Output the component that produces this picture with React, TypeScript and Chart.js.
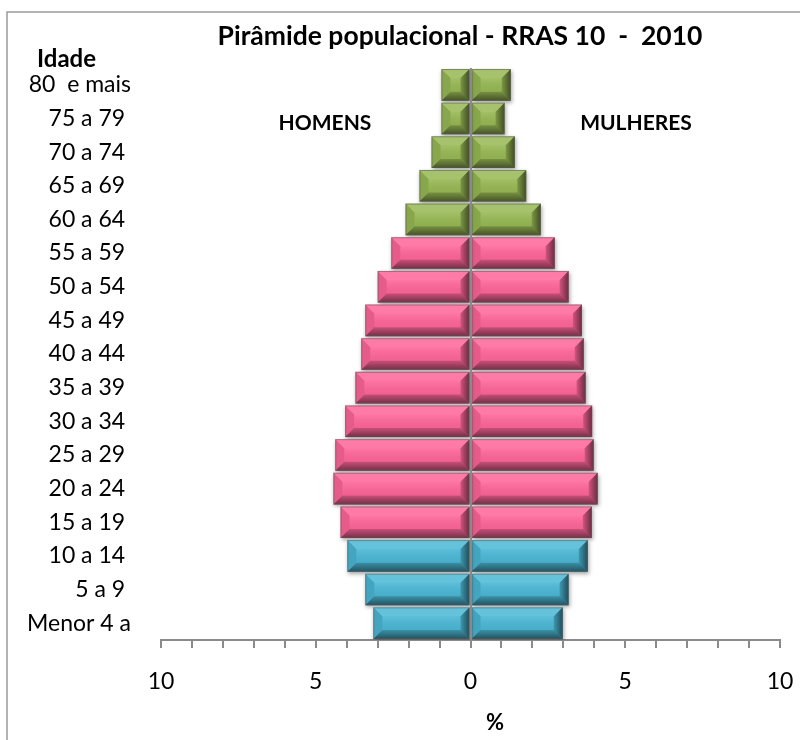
import React, { useEffect, useRef } from 'react';
import { Chart, registerables } from 'chart.js';

Chart.register(...registerables);

// Age groups, top to bottom
const ageLabels = [
  '80  e mais',
  '75 a 79 ',
  '70 a 74 ',
  '65 a 69 ',
  '60 a 64 ',
  '55 a 59 ',
  '50 a 54 ',
  '45 a 49 ',
  '40 a 44 ',
  '35 a 39 ',
  '30 a 34 ',
  '25 a 29 ',
  '20 a 24 ',
  '15 a 19 ',
  '10 a 14 ',
  '5 a 9 ',
  'Menor 4 a',
];

// Percent of population
const menPercent = [0.94, 0.94, 1.26, 1.65, 2.1, 2.56, 3.0, 3.4, 3.53, 3.72, 4.05, 4.37, 4.43, 4.2, 3.98, 3.4, 3.14];
const womenPercent = [1.3, 1.1, 1.43, 1.8, 2.27, 2.72, 3.17, 3.6, 3.66, 3.72, 3.93, 3.98, 4.11, 3.92, 3.79, 3.17, 2.98];

// Broad age group of each row
const ageGroups = [
  'idosos', 'idosos', 'idosos', 'idosos', 'idosos',
  'adultos', 'adultos', 'adultos', 'adultos', 'adultos', 'adultos', 'adultos', 'adultos', 'adultos',
  'jovens', 'jovens', 'jovens',
];

const groupColors: Record<string, string> = {
  idosos: '#98B954',
  adultos: '#FF6699',
  jovens: '#4BB8D6',
};

const xTickStep = 5;
const titleText = 'Pirâmide populacional - RRAS 10  -  2010';
const yAxisTitle = 'Idade';
const menLabel = 'HOMENS';
const womenLabel = 'MULHERES';
const xAxisTitle = '%';

const FONT = 'Lato, "Open Sans", sans-serif';

function poly(ctx: CanvasRenderingContext2D, pts: number[][], fill: string | CanvasGradient) {
  ctx.beginPath();
  ctx.moveTo(pts[0][0], pts[0][1]);
  for (let i = 1; i < pts.length; i++) ctx.lineTo(pts[i][0], pts[i][1]);
  ctx.closePath();
  ctx.fillStyle = fill;
  ctx.fill();
}

const framePlugin = {
  id: 'frame',
  beforeDraw(chart: any) {
    const ctx = chart.ctx as CanvasRenderingContext2D;
    ctx.save();
    ctx.fillStyle = '#ffffff';
    ctx.fillRect(0, 0, chart.width, chart.height);
    ctx.strokeStyle = '#9a9a9a';
    ctx.lineWidth = 1.5;
    ctx.beginPath();
    ctx.moveTo(7, chart.height);
    ctx.lineTo(7, 12);
    ctx.lineTo(chart.width, 12);
    ctx.stroke();
    ctx.restore();
  },
};

const shadowPlugin = {
  id: 'barShadow',
  beforeDatasetsDraw(chart: any) {
    const ctx = chart.ctx as CanvasRenderingContext2D;
    ctx.save();
    ctx.shadowColor = 'rgba(0,0,0,0.35)';
    ctx.shadowBlur = 4;
    ctx.shadowOffsetX = 1;
    ctx.shadowOffsetY = 2;
  },
  afterDatasetsDraw(chart: any) {
    chart.ctx.restore();
  },
};

const bevelPlugin = {
  id: 'bevel',
  afterDatasetsDraw(chart: any) {
    const ctx = chart.ctx as CanvasRenderingContext2D;
    ctx.save();
    chart.data.datasets.forEach((_ds: any, di: number) => {
      const meta = chart.getDatasetMeta(di);
      meta.data.forEach((el: any) => {
        const p = el.getProps(['x', 'y', 'base', 'height'], true);
        const L = Math.min(p.x, p.base);
        const R = Math.max(p.x, p.base);
        const T = p.y - p.height / 2;
        const B = p.y + p.height / 2;
        const b = Math.min(9, (R - L) / 2, p.height / 2);
        const fg = ctx.createLinearGradient(0, T + b, 0, B - b);
        fg.addColorStop(0, 'rgba(255,255,255,0.10)');
        fg.addColorStop(1, 'rgba(0,0,0,0.05)');
        ctx.fillStyle = fg;
        ctx.fillRect(L + b, T + b, R - L - 2 * b, p.height - 2 * b);
        poly(ctx, [[L, T], [R, T], [R - b, T + b], [L + b, T + b]], 'rgba(255,255,255,0.14)');
        const bg = ctx.createLinearGradient(0, B - b, 0, B);
        bg.addColorStop(0, 'rgba(0,0,0,0.22)');
        bg.addColorStop(1, 'rgba(0,0,0,0.55)');
        poly(ctx, [[L, B], [R, B], [R - b, B - b], [L + b, B - b]], bg);
        const rg = ctx.createLinearGradient(R - b, 0, R, 0);
        rg.addColorStop(0, 'rgba(0,0,0,0.18)');
        rg.addColorStop(1, 'rgba(0,0,0,0.58)');
        poly(ctx, [[R, T], [R, B], [R - b, B - b], [R - b, T + b]], rg);
        poly(ctx, [[L, T], [L, B], [L + b, B - b], [L + b, T + b]], 'rgba(0,0,0,0.1)');
        ctx.strokeStyle = 'rgba(90,90,90,0.55)';
        ctx.lineWidth = 1;
        ctx.strokeRect(L + 0.5, T + 0.5, R - L - 1, p.height - 1);
      });
    });
    const xs = chart.scales.x;
    const x0 = Math.round(xs.getPixelForValue(0));
    ctx.strokeStyle = '#8a8a8a';
    ctx.lineWidth = 2;
    ctx.beginPath();
    ctx.moveTo(x0, chart.chartArea.top);
    ctx.lineTo(x0, chart.chartArea.bottom);
    ctx.stroke();
    ctx.restore();
  },
};

const textPlugin = {
  id: 'texts',
  afterDraw(chart: any) {
    const ctx = chart.ctx as CanvasRenderingContext2D;
    ctx.save();
    ctx.fillStyle = '#000';
    ctx.textBaseline = 'alphabetic';
    ctx.textAlign = 'center';
    ctx.font = `bold 26.5px ${FONT}`;
    ctx.fillText(titleText, 460, 45);
    ctx.textAlign = 'left';
    ctx.font = `bold 24px ${FONT}`;
    ctx.fillText(yAxisTitle, 37, 67);
    ctx.textAlign = 'center';
    ctx.font = `bold 21px ${FONT}`;
    ctx.fillText(menLabel, 325, 130);
    ctx.fillText(womenLabel, 636, 130);
    ctx.font = `bold 22px ${FONT}`;
    ctx.fillText(xAxisTitle, 495, 730);
    ctx.restore();
  },
};

export default function App() {
  const ref = useRef<HTMLCanvasElement | null>(null);
  useEffect(() => {
    if (!ref.current) return;
    const colors = ageGroups.map((g) => groupColors[g]);
    const chart = new Chart(ref.current, {
      type: 'bar',
      data: {
        labels: ageLabels,
        datasets: [
          {
            label: menLabel,
            data: menPercent.map((v) => -v),
            backgroundColor: colors,
            borderWidth: 0,
          },
          {
            label: womenLabel,
            data: womenPercent,
            backgroundColor: colors,
            borderWidth: 0,
          },
        ],
      },
      options: {
        indexAxis: 'y',
        responsive: false,
        animation: false,
        devicePixelRatio: 1,
        layout: { padding: { top: 68, right: 20, left: 0, bottom: 0 } },
        datasets: { bar: { categoryPercentage: 1, barPercentage: 0.94 } },
        plugins: {
          legend: { display: false },
          title: { display: false },
          tooltip: { enabled: false },
        },
        scales: {
          x: {
            type: 'linear',
            stacked: true,
            min: -10,
            max: 10,
            afterFit: (s: any) => {
              s.height = 100;
              s.paddingLeft = 0;
              s.paddingRight = 0;
            },
            ticks: {
              stepSize: 1,
              autoSkip: false,
              maxRotation: 0,
              padding: 20,
              color: '#000',
              font: { family: FONT, size: 23 },
              callback: (v: any) => (Number(v) % xTickStep === 0 ? String(Math.abs(Number(v))) : ''),
            },
            grid: {
              drawOnChartArea: false,
              drawTicks: true,
              tickLength: 8,
              color: '#8a8a8a',
              lineWidth: 2,
            },
            border: { display: true, color: '#8a8a8a', width: 2 },
          },
          y: {
            stacked: true,
            afterFit: (s: any) => {
              s.width = 161;
              s.paddingTop = 0;
              s.paddingBottom = 0;
            },
            ticks: {
              padding: 30,
              color: '#000',
              font: { family: FONT, size: 23 },
              autoSkip: false,
            },
            grid: { display: false, drawTicks: false },
            border: { display: false },
          },
        },
      },
      plugins: [framePlugin, shadowPlugin, bevelPlugin, textPlugin],
    });
    return () => chart.destroy();
  }, []);
  return (
    <div style={{ position: 'absolute', left: 0, top: 0, width: 800, height: 740 }}>
      <canvas ref={ref} width={800} height={740} style={{ display: 'block', width: 800, height: 740 }} />
    </div>
  );
}
